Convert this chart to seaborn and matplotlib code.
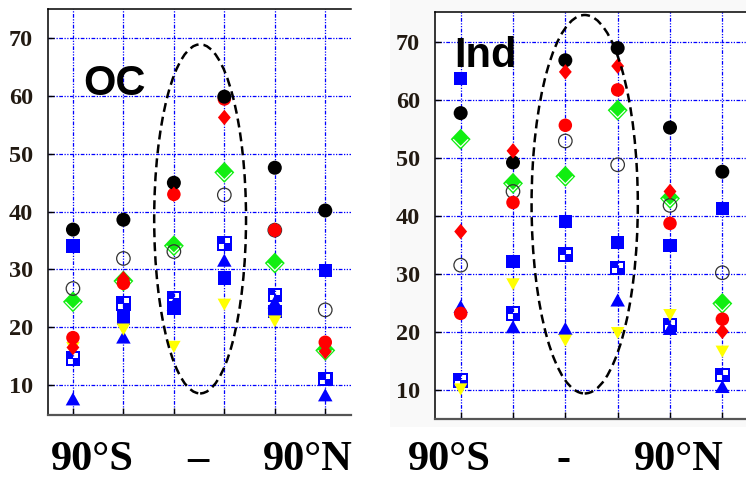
import numpy as np
import pandas as pd
import matplotlib
matplotlib.use("Agg")
import matplotlib.pyplot as plt
import seaborn as sns
from matplotlib.path import Path
from matplotlib.patches import Ellipse, Rectangle

# ---------------- data ----------------
positions = [0, 1, 2, 3, 4, 5]
yticks = [10, 20, 30, 40, 50, 60, 70]

oc_black = [36.9, 38.6, 45.0, 59.9, 47.6, 40.2]
oc_red_circle = [18.2, 27.6, 43.0, 59.5, 36.8, 17.4]
oc_red_diamond = [16.5, 28.4, 43.0, 56.3, 36.8, 15.8]
oc_green = [24.4, 28.0, 34.1, 46.8, 31.1, 16.0]
oc_open = [26.7, 31.9, 33.1, 42.9, 36.8, 23.0]
oc_square = [34.1, 21.6, 23.3, 28.5, 22.7, 29.8]
oc_checker = [14.6, 24.1, 25.0, 34.5, 25.6, 11.0]
oc_tri_up = [7.6, 18.3, 24.0, 31.6, 24.4, 8.3]
oc_tri_down = [16.4, 19.6, 16.6, 23.9, 21.0, 15.2]

ind_black = [57.7, 49.2, 66.8, 68.9, 55.2, 47.6]
ind_red_circle = [23.2, 42.3, 55.6, 61.7, 38.7, 22.2]
ind_red_diamond = [37.3, 51.2, 64.8, 65.8, 44.2, 20.1]
ind_green = [53.2, 45.6, 46.8, 58.2, 43.0, 24.9]
ind_open = [31.5, 44.2, 52.9, 48.8, 41.8, 30.2]
ind_square = [63.7, 32.1, 39.0, 35.4, 34.9, 41.3]
ind_checker = [11.6, 23.2, 33.3, 31.0, 21.2, 12.6]
ind_tri_up = [24.4, 20.9, 20.6, 25.5, 20.6, 10.6]
ind_tri_down = [10.1, 28.2, 18.5, 19.8, 22.9, 16.6]

panel_titles = ["OC", "Ind"]
x_labels_left = ["90°S", "–", "90°N"]
x_labels_right = ["90°S", "-", "90°N"]

# ---------------- markers ----------------
def poly(pts):
    return list(pts) + [pts[0]]

outer = [(-1, -1), (1, -1), (1, 1), (-1, 1)]
hole1 = [(0.05, 0.05), (0.05, 0.72), (0.72, 0.72), (0.72, 0.05)]
hole2 = [(-0.72, -0.72), (-0.72, -0.05), (-0.05, -0.05), (-0.05, -0.72)]
verts, codes = [], []
for p in (outer, hole1, hole2):
    pp = poly(p)
    verts += pp
    codes += [Path.MOVETO] + [Path.LINETO] * (len(pp) - 2) + [Path.CLOSEPOLY]
checker_marker = Path(verts, codes)

green_diamond = [(0, 1), (0.95, 0), (0, -1), (-0.95, 0)]
red_diamond = [(0, 1), (0.83, 0), (0, -1), (-0.83, 0)]
v_marker = Path([(-1, 0.0), (0, -1), (1, 0.0)], [Path.MOVETO, Path.LINETO, Path.LINETO])
tri_up = [(0, 0.9), (-1, -0.9), (1, -0.9)]
tri_down = [(0, -0.9), (-1, 0.9), (1, 0.9)]


def s_of(px):
    return (px * 0.72) ** 2


def draw_panel(ax, series):
    blk, rc, rd, gr, op, sq, ck, tu, td = series
    df = pd.DataFrame({"pos": positions * 9,
                       "value": blk + rc + rd + gr + op + sq + ck + tu + td,
                       "series": np.repeat(["black", "red_circle", "red_diamond", "green",
                                            "open", "square", "checker", "tri_up", "tri_down"], 6)})

    def sub(name):
        return df[df["series"] == name]

    common = dict(x="pos", y="value", ax=ax, legend=False)
    sns.scatterplot(data=sub("tri_up"), marker=tri_up, s=s_of(14.5), color="#0000ff",
                    edgecolor="none", linewidth=0, zorder=3, **common)
    sns.scatterplot(data=sub("square"), marker="s", s=s_of(13.5), color="#0000ff",
                    edgecolor="none", linewidth=0, zorder=3.1, **common)
    sns.scatterplot(data=sub("checker"), marker=checker_marker, s=s_of(14.5), color="#0000ff",
                    edgecolor="none", linewidth=0, zorder=3.2, **common)
    sns.scatterplot(data=sub("tri_down"), marker=tri_down, s=s_of(13.5), color="#ffff00",
                    edgecolor="none", linewidth=0, zorder=3.3, **common)
    sns.scatterplot(data=sub("green"), marker=green_diamond, s=s_of(21), color="#11ee11",
                    edgecolor="none", linewidth=0, zorder=3.4, **common)
    sns.scatterplot(data=sub("green"), marker=v_marker, s=s_of(15), facecolors="none",
                    edgecolor="white", linewidth=0.9, zorder=3.45, **common)
    sns.scatterplot(data=sub("open"), marker="o", s=s_of(13.5), facecolors="none",
                    edgecolor="#333333", linewidth=0.9, zorder=3.5, **common)
    sns.scatterplot(data=sub("red_circle"), marker="o", s=s_of(13.5), color="#ff0000",
                    edgecolor="none", linewidth=0, zorder=3.6, **common)
    sns.scatterplot(data=sub("black"), marker="o", s=s_of(14), color="#000000",
                    edgecolor="none", linewidth=0, zorder=3.7, **common)
    sns.scatterplot(data=sub("red_diamond"), marker=red_diamond, s=s_of(15.5), color="#ff0000",
                    edgecolor="none", linewidth=0, zorder=3.8, **common)


fig = plt.figure(figsize=(7.46, 4.8), dpi=100)
fig.patch.set_facecolor("white")
fig.patches.append(Rectangle((390 / 746, 53 / 480), 1, 1, transform=fig.transFigure,
                             facecolor="#f9f9f9", edgecolor="none", zorder=-5))

ax1 = fig.add_axes([47.7 / 746, 65.5 / 480, 302.8 / 746, 405.5 / 480])
ax2 = fig.add_axes([434.5 / 746, 60.7 / 480, 314 / 746, 407.6 / 480])
ax1.set_zorder(1)
ax2.set_zorder(1)

draw_panel(ax1, [oc_black, oc_red_circle, oc_red_diamond, oc_green, oc_open,
                 oc_square, oc_checker, oc_tri_up, oc_tri_down])
draw_panel(ax2, [ind_black, ind_red_circle, ind_red_diamond, ind_green, ind_open,
                 ind_square, ind_checker, ind_tri_up, ind_tri_down])

for ax, ylim in ((ax1, (4.9, 75.07)), (ax2, (4.95, 75.17))):
    ax.set_facecolor("white")
    ax.set_xlim(-0.5, 5.5)
    ax.set_ylim(*ylim)
    ax.set_xticks(positions)
    ax.set_xticklabels([])
    ax.set_yticks(yticks)
    ax.set_yticklabels([str(v) for v in yticks])
    ax.set_xlabel("")
    ax.set_ylabel("")
    ax.set_axisbelow(True)
    ax.grid(True, color="#0000ff", linestyle=(0, (3, 1.2, 1, 1.2, 1, 1.2)), linewidth=0.9)
    ax.tick_params(axis="y", direction="in", length=4, width=1, color="black",
                   pad=10.5, labelsize=17.5, labelcolor="#221a12")
    ax.tick_params(axis="x", direction="in", length=5, width=1, color="black")
    for lab in ax.get_yticklabels():
        lab.set_fontfamily("Liberation Serif")
        lab.set_fontweight("bold")
    ax.spines["right"].set_visible(False)
    ax.spines["left"].set_color("black")
    ax.spines["left"].set_linewidth(1.1)
    ax.spines["top"].set_color("black")
    ax.spines["top"].set_linewidth(1.1)
    ax.spines["bottom"].set_color("#555555")
    ax.spines["bottom"].set_linewidth(1.6)

# dashed ellipses
ax1.add_patch(Ellipse((2.52, 38.75), 1.82, 60.4, fill=False, edgecolor="black",
                      linestyle=(0, (3.6, 2.0)), linewidth=1.8, zorder=10))
ax2.add_patch(Ellipse((2.37, 42.0), 2.03, 65.2, fill=False, edgecolor="black",
                      linestyle=(0, (3.6, 2.0)), linewidth=1.8, zorder=10))

# panel titles
ax1.text(0.1176, 0.788, panel_titles[0], transform=ax1.transAxes, fontsize=30,
         fontweight="bold", family="Liberation Sans", va="baseline", ha="left", zorder=11)
ax2.text(0.064, 0.865, panel_titles[1], transform=ax2.transAxes, fontsize=30,
         fontweight="bold", family="Liberation Sans", va="baseline", ha="left", zorder=11)

# bottom labels
for xs, labels in (([92.5, 197.5, 307.5], x_labels_left), ([449.7, 563, 678.8], x_labels_right)):
    for xp, lab in zip(xs, labels):
        fig.text(xp / 746, 9.5 / 480, lab, ha="center", va="baseline", fontsize=30.5,
                 fontweight="bold", family="Liberation Serif", color="black")

fig.savefig("out.png", dpi=100)
